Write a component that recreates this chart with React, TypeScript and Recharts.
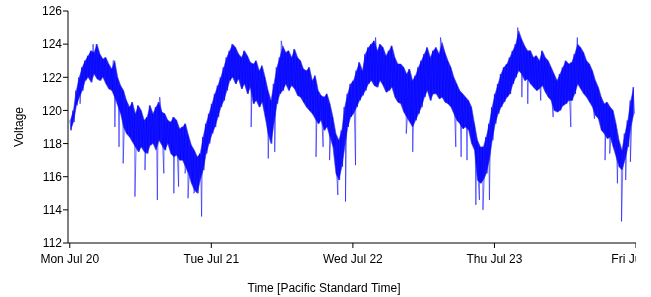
import React from 'react';
import { ComposedChart, Line, Area, XAxis, YAxis } from 'recharts';

// Voltage trace, one value every 15 minutes (alternating swings), per day, PST
const MON_TRACE = [
  119.4, 118.8, 120.0, 119.3, 121.2, 120.3, 122.0, 120.8, 122.6, 121.2, 123.0, 121.8,
  123.3, 122.0, 123.6, 121.7, 123.5, 122.2, 124.0, 121.9, 123.4, 121.8, 123.1, 122.0,
  123.2, 121.6, 122.8, 121.3, 122.5, 121.2, 123.0, 120.8, 122.0, 120.3, 121.5, 119.8,
  121.2, 119.0, 120.6, 118.6, 120.2, 118.4, 120.5, 118.1, 119.8, 117.8, 120.3, 117.5,
  120.0, 117.8, 119.4, 117.5, 119.6, 117.4, 120.3, 117.9, 119.8, 118.0, 120.2, 117.6,
  120.5, 118.2, 119.9, 117.9, 119.8, 117.6, 119.4, 118.0, 119.3, 117.4, 119.6, 117.2,
  119.4, 117.3, 118.9, 117.0, 119.0, 117.0, 119.2, 116.6, 118.5, 116.2, 117.9, 115.6,
  117.6, 115.2, 117.2, 115.0, 117.4, 115.8, 118.4, 116.4, 119.2, 117.4, 119.8, 118.0,
];
const TUE_TRACE = [
  120.4, 118.6, 121.0, 119.0, 121.5, 119.6, 122.0, 120.2, 122.6, 120.6, 123.2, 121.2,
  123.6, 121.8, 124.0, 122.0, 123.8, 121.6, 123.4, 121.9, 123.2, 121.3, 123.6, 121.6,
  123.3, 121.0, 122.9, 121.4, 122.8, 120.4, 123.0, 120.6, 122.4, 120.2, 122.7, 120.5,
  122.0, 119.6, 121.2, 118.6, 120.6, 118.0, 121.6, 119.2, 122.6, 120.4, 123.2, 121.0,
  123.9, 121.2, 123.5, 121.6, 123.6, 121.2, 123.2, 121.5, 123.7, 121.3, 123.2, 120.9,
  123.0, 120.8, 122.5, 120.5, 122.4, 120.2, 122.6, 120.0, 121.8, 119.8, 122.1, 119.5,
  121.2, 119.2, 120.9, 119.4, 120.8, 118.8, 121.0, 119.0, 120.4, 118.4, 119.6, 117.8,
  118.6, 116.2, 118.2, 115.8, 118.8, 116.6, 120.2, 117.8, 121.0, 119.0, 121.6, 119.6,
];
const WED_TRACE = [
  121.8, 119.8, 122.4, 120.2, 122.9, 120.6, 122.4, 120.9, 123.4, 121.2, 123.8, 121.6,
  124.0, 121.8, 124.2, 121.5, 123.6, 121.4, 124.0, 121.8, 123.8, 121.5, 123.3, 121.1,
  123.6, 121.2, 123.9, 121.4, 123.2, 120.8, 122.8, 120.5, 122.8, 120.4, 122.6, 119.9,
  122.2, 119.6, 122.5, 119.3, 121.8, 119.0, 122.1, 119.4, 122.6, 119.8, 123.0, 120.2,
  123.4, 120.8, 123.8, 121.2, 123.2, 120.6, 123.6, 121.0, 123.8, 121.0, 123.4, 120.7,
  124.1, 120.8, 123.5, 120.5, 123.0, 120.4, 122.6, 120.2, 122.0, 119.8, 121.6, 119.4,
  121.2, 119.2, 121.0, 118.9, 120.8, 119.0, 120.6, 118.8, 120.2, 118.0, 119.2, 117.6,
  118.2, 115.8, 117.8, 115.6, 117.8, 115.8, 118.4, 116.2, 119.2, 117.0, 120.2, 118.2,
];
const THU_TRACE = [
  121.0, 119.2, 121.6, 119.8, 122.2, 120.2, 122.6, 120.5, 122.8, 120.8, 123.2, 121.0,
  123.6, 121.6, 124.0, 122.0, 124.8, 122.4, 124.3, 122.2, 123.9, 121.8, 123.6, 121.9,
  123.6, 121.6, 123.2, 121.4, 123.3, 121.2, 123.0, 121.3, 123.6, 121.5, 123.2, 121.1,
  123.0, 120.8, 122.6, 120.6, 122.2, 120.0, 121.8, 119.9, 122.2, 120.0, 122.6, 120.3,
  123.0, 120.4, 122.8, 120.6, 122.9, 120.6, 123.4, 121.0, 124.0, 121.6, 123.8, 121.3,
  123.5, 121.0, 123.0, 120.8, 122.8, 120.5, 122.4, 120.2, 121.8, 119.7, 121.4, 119.5,
  120.8, 118.8, 120.4, 118.6, 120.5, 118.3, 120.2, 118.4, 120.0, 117.8, 119.2, 117.2,
  118.2, 116.6, 117.6, 116.4, 118.6, 117.0, 119.4, 117.8, 120.6, 119.0, 121.4, 119.8,
];
const DAY_TRACES = [MON_TRACE, TUE_TRACE, WED_TRACE, THU_TRACE];

// Isolated excursions (hours since Mon Jul 20 00:00)
const SPIKE_TIME = [
  1.7, 3.9, 7.3, 7.6, 8.3, 9.0, 11.0, 12.7, 14.8, 15.2, 15.9, 17.6, 18.4, 19.5, 20.0, 21.0, 22.3,
  30.7, 33.6, 34.7, 35.8, 41.7, 42.9, 44.0, 45.4, 46.7, 48.4,
  51.8, 57.0, 58.1, 62.8, 65.4, 66.3, 67.3, 68.8, 69.4, 70.0, 71.1,
  75.9, 76.6, 77.6, 79.8, 81.9, 84.9, 86.0, 88.9, 90.7, 91.5, 92.8, 93.5, 94.2, 95.0,
];
const SPIKE_VALUE = [
  120.4, 124.0, 123.0, 119.0, 117.8, 116.8, 114.8, 116.4, 114.6, 120.8, 116.2, 115.0, 115.4, 116.2, 114.7, 115.0, 113.6,
  119.0, 117.1, 117.5, 124.2, 117.2, 117.8, 117.0, 114.9, 114.5, 116.7,
  124.4, 118.6, 117.5, 124.4, 117.8, 117.2, 117.0, 114.3, 114.6, 114.0, 114.6,
  125.0, 120.8, 120.4, 120.6, 119.6, 119.0, 124.4, 119.5, 117.0, 117.4, 115.6, 113.3, 115.8, 116.9,
];

const X_TICKS = [0, 24, 48, 72, 96];
const X_TICK_LABELS = ['Mon Jul 20', 'Tue Jul 21', 'Wed Jul 22', 'Thu Jul 23', 'Fri Jul 24'];
const Y_TICKS = [112, 114, 116, 118, 120, 122, 124, 126];

type Row = { t: number; v: number };
const trace: Row[] = [];
DAY_TRACES.forEach((day, d) => {
  day.forEach((v, k) => trace.push({ t: d * 24 + k * 0.25, v }));
});
SPIKE_TIME.forEach((t, i) => trace.push({ t: t + 0.05, v: SPIKE_VALUE[i] }));
trace.sort((a, b) => a.t - b.t);

// dense body: each half-hour swing (high, low) filled as a range
const body: { t: number; range: [number, number] }[] = [];
DAY_TRACES.forEach((day, d) => {
  for (let p = 0; p < day.length / 2; p++) {
    body.push({ t: d * 24 + p * 0.5 + 0.125, range: [day[p * 2 + 1], day[p * 2]] });
  }
});

const FONT = '"Liberation Sans", Arial, Helvetica, sans-serif';

export default function App() {
  return (
    <div style={{ position: 'fixed', left: 0, top: 0, width: 636, height: 297, fontFamily: FONT }}>
      <ComposedChart
        width={636}
        height={297}
        data={trace}
        margin={{ top: 11, right: 0, bottom: 0, left: 0 }}
        style={{ fontFamily: FONT }}
      >
        <XAxis
          dataKey="t"
          type="number"
          domain={[-0.3, 96]}
          ticks={X_TICKS}
          interval={0}
          allowDataOverflow
          tickFormatter={(v: number) => X_TICK_LABELS[X_TICKS.indexOf(v)]}
          height={54}
          tickSize={5}
          tickMargin={6}
          stroke="#000"
          tick={{ fill: '#000', fontSize: 12 }}
        />
        <YAxis
          type="number"
          domain={[112, 126]}
          ticks={Y_TICKS}
          interval={0}
          allowDataOverflow
          width={68}
          tickSize={5}
          tickMargin={1}
          stroke="#000"
          tick={{ fill: '#000', fontSize: 12 }}
        />
        <Area
          data={body}
          dataKey="range"
          type="linear"
          fill="#0000ff"
          fillOpacity={0.92}
          stroke="#3a3ad0"
          strokeOpacity={0.6}
          strokeWidth={1}
          isAnimationActive={false}
        />
        <Line
          dataKey="v"
          type="linear"
          stroke="#0000ff"
          strokeOpacity={0.55}
          strokeWidth={1}
          dot={false}
          isAnimationActive={false}
        />
      </ComposedChart>
      <div
        style={{
          position: 'absolute',
          left: 19,
          top: 127,
          transform: 'translate(-50%, -50%) rotate(-90deg)',
          fontSize: 12,
          color: '#000',
          whiteSpace: 'nowrap',
        }}
      >
        Voltage
      </div>
      <div
        style={{
          position: 'absolute',
          left: 324,
          top: 288,
          transform: 'translate(-50%, -50%)',
          fontSize: 12,
          color: '#000',
          whiteSpace: 'nowrap',
        }}
      >
        Time [Pacific Standard Time]
      </div>
    </div>
  );
}
